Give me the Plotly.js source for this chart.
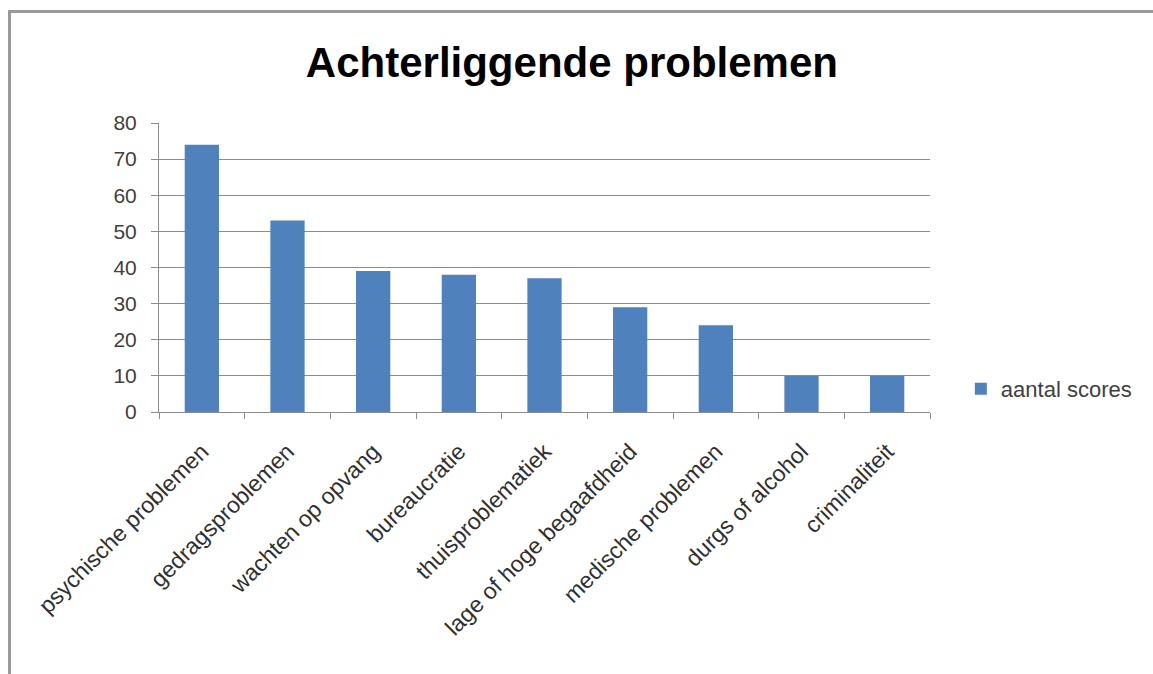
<!DOCTYPE html>
<html>
<head>
<meta charset="utf-8">
<script src="https://cdn.plot.ly/plotly-3.0.1.min.js"></script>
<style>
html,body{margin:0;padding:0;background:#fff;}
#frame{position:absolute;left:8px;top:10px;width:1200px;height:700px;border-left:3px solid #9a9a9a;border-top:3px solid #9a9a9a;pointer-events:none;z-index:5;}
#chart{position:absolute;left:0;top:0;width:1153px;height:674px;}
</style>
</head>
<body>
<div id="chart"></div>
<div id="frame"></div>
<script>
const categories = ["psychische problemen","gedragsproblemen","wachten op opvang","bureaucratie","thuisproblematiek","lage of hoge begaafdheid","medische problemen","durgs of alcohol","criminaliteit"];
const scores = [74, 53, 39, 38, 37, 29, 24, 10, 10];
const seriesName = "aantal scores";
const yTicks = [0,10,20,30,40,50,60,70,80];

const trace = {
  type: "bar",
  x: categories,
  y: scores,
  name: seriesName,
  marker: {color: "#4F81BD"},
  width: 0.4,
  showlegend: true
};

const layout = {
  width: 1153, height: 674,
  paper_bgcolor: "#fff", plot_bgcolor: "#fff",
  margin: {l: 159, r: 223, t: 123, b: 262},
  title: {text: "Achterliggende problemen", x: 0.496, xanchor: "center", y: 0.908, yanchor: "middle",
          font: {family: "Liberation Sans, Arial, sans-serif", size: 42, weight: "bold", color: "#000"}},
  font: {family: "Liberation Sans, Arial, sans-serif", color: "#404040"},
  xaxis: {
    type: "category",
    tickangle: -45,
    tickfont: {size: 23, color: "#303030"},
    ticklabelstandoff: 16,
    showline: true, linecolor: "#8c8c8c", linewidth: 1,
    ticks: "outside", tickson: "boundaries", ticklen: 6, tickcolor: "#8c8c8c",
    showgrid: false,
    range: [-0.5, 8.5]
  },
  yaxis: {
    range: [0, 80],
    tickvals: yTicks,
    tickfont: {size: 21, color: "#404040"},
    ticklabelstandoff: 10,
    showline: true, linecolor: "#8c8c8c", linewidth: 1,
    ticks: "outside", ticklen: 7, tickcolor: "#8c8c8c",
    showgrid: true, gridcolor: "#8c8c8c", gridwidth: 1,
    zeroline: false
  },
  legend: {x: 1.04, xanchor: "left", y: 0.08, yanchor: "middle", itemwidth: 30,
           font: {size: 22, color: "#404040"}, bgcolor: "rgba(0,0,0,0)"},
  bargap: 0.6
};

Plotly.newPlot("chart", [trace], layout, {staticPlot: true, displayModeBar: false});
</script>
</body>
</html>
